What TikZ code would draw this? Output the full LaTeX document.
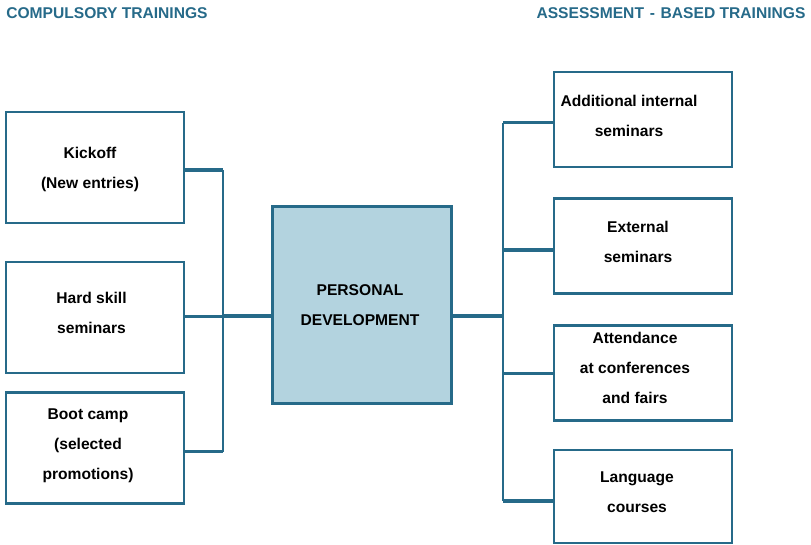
\documentclass[tikz,border=0pt]{standalone}
\usepackage{fontspec}
\setmainfont{Liberation Sans}
\definecolor{frame}{HTML}{266A89}
\definecolor{core}{HTML}{B3D3DF}
\tikzset{
  box/.style={draw=frame, line width=2pt, minimum width=178*0.75pt, inner sep=0pt},
  txt/.style={align=center, font=\fontsize{11.7}{22.5}\selectfont\bfseries},
  head/.style={text=frame, font=\fontsize{11.7}{14}\selectfont\bfseries, inner sep=0pt},
  link/.style={draw=frame, line width=2.5pt},
  bus/.style={draw=frame, line width=1.5pt},
}
\begin{document}
\begin{tikzpicture}[x=0.75pt, y=-0.75pt]
      \useasboundingbox (0,0) rectangle (811,544);
      \node[head, anchor=base west] (hl) at (6,18) {COMPULSORY TRAININGS};
      \node[head, anchor=base east] (hr) at (805.7,18) {ASSESSMENT\hspace{4.3pt}-\hspace{4.3pt}BASED TRAININGS};
      % boxes
      \node[box, minimum height=111*0.75pt] (kick) at (95,167.5) {};
      \node[box, minimum height=111*0.75pt] (hard) at (95,317.5) {};
      \node[box, minimum height=111*0.75pt] (boot) at (95,448) {};
      \node[box, fill=core, minimum width=179*0.75pt, minimum height=197*0.75pt] (pd) at (361.7,305) {};
      \node[box, minimum height=95*0.75pt] (add) at (643,119.5) {};
      \node[box, minimum height=95*0.75pt] (ext) at (643,246) {};
      \node[box, minimum height=95*0.75pt] (att) at (643,372.7) {};
      \node[box, minimum height=93*0.75pt] (lang) at (643,496.5) {};
      % texts
      \node[txt] (kick-t) at (90,169.5) {Kickoff\\(New entries)};
      \node[txt] (hard-t) at (91.5,313) {Hard skill\\seminars};
      \node[txt] (boot-t) at (88,445.5) {Boot camp\\(selected\\promotions)};
      \node[txt] (pd-t) at (360,305.5) {PERSONAL\\DEVELOPMENT};
      \node[txt] (add-t) at (629,116) {Additional internal\\seminars};
      \node[txt] (ext-t) at (638,242) {External\\seminars};
      \node[txt] (att-t) at (635,367.7) {Attendance\\at conferences\\and fairs};
      \node[txt] (lang-t) at (637,492.4) {Language\\courses};
      % joints
      \coordinate (l1) at (223,170);
      \coordinate (l2) at (223,316.7);
      \coordinate (l3) at (223,451.7);
      \coordinate (lh) at (223,316);
      \coordinate (rh) at (503,316);
      \coordinate (r1) at (503,122.7);
      \coordinate (r2) at (503,250);
      \coordinate (r3) at (503,373.3);
      \coordinate (r4) at (503,501);
      \begin{scope}[-]
        \draw[bus] (l1) to (l3);
        \draw[link] (l1 -| kick.east) to (l1);
        \draw[link] (l2 -| hard.east) to (l2);
        \draw[link] (l3 -| boot.east) to (l3);
        \draw[link] (lh) to (lh -| pd.west);
        \draw[link] (rh -| pd.east) to (rh);
        \draw[bus] (r1) to (r4);
        \draw[link] (r1) to (r1 -| add.west);
        \draw[link] (r2) to (r2 -| ext.west);
        \draw[link] (r3) to (r3 -| att.west);
        \draw[link] (r4) to (r4 -| lang.west);
      \end{scope}
    \end{tikzpicture}
\end{document}
